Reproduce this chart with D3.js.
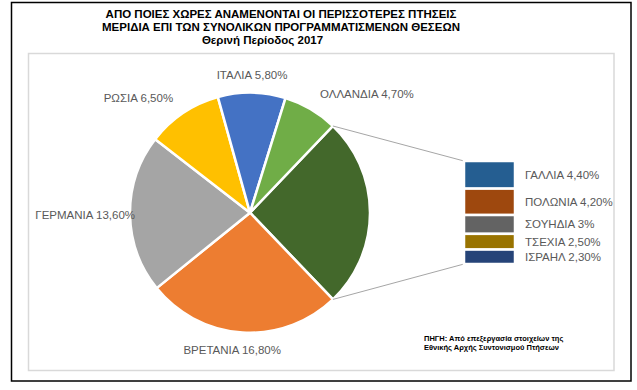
<!doctype html>
<meta charset="utf-8">
<title>pie of bar - ptiseis 2017</title>
<script src="https://cdn.jsdelivr.net/npm/d3@7"></script>
<style>
  body { margin: 0; background: #fff; }
  text { font-family: "Liberation Sans", Arial, sans-serif; }
</style>
<body>
<svg id="chart" width="637" height="390"></svg>
<script>

// pie slices (clockwise after the "other" slice)
var pieNames  = ["ΒΡΕΤΑΝΙΑ", "ΓΕΡΜΑΝΙΑ", "ΡΩΣΙΑ", "ΙΤΑΛΙΑ", "ΟΛΛΑΝΔΙΑ"];
var pieValues = [16.8, 13.6, 6.5, 5.8, 4.7];
var pieLabels = ["16,80%", "13,60%", "6,50%", "5,80%", "4,70%"];
var pieColors = ["#ED7D31", "#A5A5A5", "#FFC000", "#4472C4", "#70AD47"];

// split-out bar
var barNames  = ["ΓΑΛΛΙΑ", "ΠΟΛΩΝΙΑ", "ΣΟΥΗΔΙΑ", "ΤΣΕΧΙΑ", "ΙΣΡΑΗΛ"];
var barValues = [4.4, 4.2, 3, 2.5, 2.3];
var barLabels = ["4,40%", "4,20%", "3%", "2,50%", "2,30%"];
var barColors = ["#255E91", "#9E480E", "#636363", "#997300", "#264478"];

var titleLines = ["ΑΠΟ ΠΟΙΕΣ ΧΩΡΕΣ ΑΝΑΜΕΝΟΝΤΑΙ ΟΙ ΠΕΡΙΣΣΟΤΕΡΕΣ ΠΤΗΣΕΙΣ",
                  "ΜΕΡΙΔΙΑ ΕΠΙ ΤΩΝ ΣΥΝΟΛΙΚΩΝ ΠΡΟΓΡΑΜΜΑΤΙΣΜΕΝΩΝ ΘΕΣΕΩΝ",
                  "Θερινή Περίοδος 2017"];
var sourceLines = ["ΠΗΓΗ: Από επεξεργασία στοιχείων της",
                   "Εθνικής Αρχής Συντονισμού  Πτήσεων"];

var svg = d3.select("#chart");

// frames
svg.append("rect").attr("x", 11.5).attr("y", 2.5).attr("width", 619.5).attr("height", 378.5)
   .attr("fill", "#fff").attr("stroke", "#000").attr("stroke-width", 1.5);
svg.append("rect").attr("x", 28.5).attr("y", 53.5).attr("width", 585.5).attr("height", 317)
   .attr("fill", "#fff").attr("stroke", "#d9d9d9").attr("stroke-width", 1.5);

// title
var titleX = [281, 281, 262.5], titleY = [13.5, 27.3, 40.3];
svg.selectAll("text.title").data(titleLines).enter().append("text")
   .attr("class", "title")
   .attr("x", function(d, i) { return titleX[i]; })
   .attr("y", function(d, i) { return titleY[i]; })
   .attr("text-anchor", "middle").attr("dominant-baseline", "central")
   .attr("font-size", "11.5px").attr("font-weight", "bold").attr("fill", "#000")
   .text(function(d) { return d; });

// ---- pie ----
var cx = 250, cy = 212.7, r = 120;
var otherTotal = d3.sum(barValues);
var total = otherTotal + d3.sum(pieValues);

var slices = [{ name: "other", value: otherTotal, color: "#43682B" }].concat(
  pieNames.map(function(n, i) {
    return { name: n, value: pieValues[i], label: n + " " + pieLabels[i], color: pieColors[i] };
  }));

// excel centres the split-out slice at 3 o'clock
var a0 = Math.PI / 2 - Math.PI * otherTotal / total;
var pie = d3.pie().sort(null).value(function(d) { return d.value; })
            .startAngle(a0).endAngle(a0 + 2 * Math.PI);
var arcs = pie(slices);
var arc = d3.arc().innerRadius(0).outerRadius(r);

var gPie = svg.append("g").attr("transform", "translate(" + cx + "," + cy + ")");
gPie.selectAll("path").data(arcs).enter().append("path")
    .attr("d", arc)
    .attr("fill", function(d) { return d.data.color; })
    .attr("stroke", "#fff").attr("stroke-width", 2.5).attr("stroke-linejoin", "round");

// labels outside the slices
var labelR = 138;
var nudge = { "ΓΕΡΜΑΝΙΑ": [23, 1], "ΒΡΕΤΑΝΙΑ": [-9, 0] };
gPie.selectAll("text").data(arcs.filter(function(d) { return d.data.name != "other"; }))
    .enter().append("text")
    .each(function(d) {
      var a = (d.startAngle + d.endAngle) / 2;
      var s = Math.sin(a), c = Math.cos(a);
      var n = nudge[d.data.name] || [0, 0];
      d3.select(this)
        .attr("x", labelR * s + n[0])
        .attr("y", -labelR * c + n[1])
        .attr("text-anchor", Math.abs(s) < 0.3 ? "middle" : (s > 0 ? "start" : "end"));
    })
    .attr("dominant-baseline", "central")
    .attr("font-size", "11.5px").attr("fill", "#595959")
    .text(function(d) { return d.data.label; });

// ---- bar ----
var other = arcs[0];
var y = d3.scaleLinear().domain([0, otherTotal]).range([161, 264]);
var barX = 464, barW = 51;
var stack = [];
var acc = 0;
barValues.forEach(function(v, i) {
  stack.push({ name: barNames[i], label: barNames[i] + " " + barLabels[i], y0: acc, y1: acc + v, color: barColors[i] });
  acc += v;
});

// connector lines
function edge(a) { return [cx + r * Math.sin(a), cy - r * Math.cos(a)]; }
var p1 = edge(other.startAngle), p2 = edge(other.endAngle);
svg.append("line").attr("x1", p1[0]).attr("y1", p1[1]).attr("x2", barX).attr("y2", y(0))
   .attr("stroke", "#a6a6a6").attr("stroke-width", 1);
svg.append("line").attr("x1", p2[0]).attr("y1", p2[1]).attr("x2", barX).attr("y2", y(otherTotal))
   .attr("stroke", "#a6a6a6").attr("stroke-width", 1);

svg.selectAll("rect.seg").data(stack).enter().append("rect")
   .attr("class", "seg")
   .attr("x", barX).attr("width", barW)
   .attr("y", function(d) { return y(d.y0); })
   .attr("height", function(d) { return y(d.y1) - y(d.y0); })
   .attr("fill", function(d) { return d.color; })
   .attr("stroke", "#fff").attr("stroke-width", 2.5);

svg.selectAll("text.seg").data(stack).enter().append("text")
   .attr("class", "seg")
   .attr("x", barX + barW + 10)
   .attr("y", function(d) { return (y(d.y0) + y(d.y1)) / 2; })
   .attr("dominant-baseline", "central")
   .attr("font-size", "11.5px").attr("fill", "#595959")
   .text(function(d) { return d.label; });

// source note
svg.selectAll("text.src").data(sourceLines).enter().append("text")
   .attr("class", "src")
   .attr("x", 424)
   .attr("y", function(d, i) { return 338.5 + i * 8.5; })
   .attr("dominant-baseline", "central")
   .attr("font-size", "7.5px").attr("font-weight", "bold").attr("fill", "#000")
   .text(function(d) { return d; });

</script>
</body>
